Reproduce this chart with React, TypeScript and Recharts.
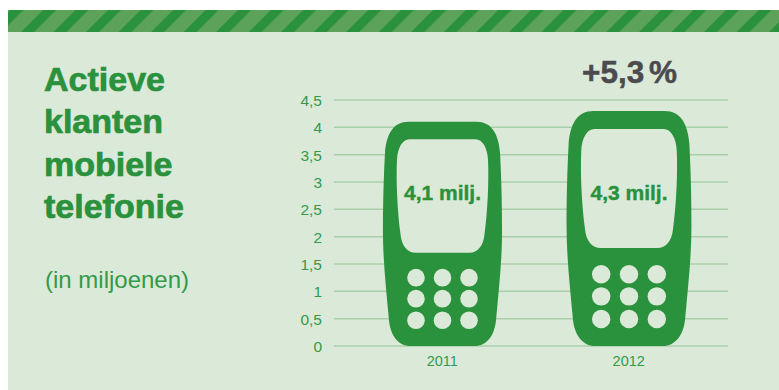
import { Bar, BarChart, CartesianGrid, LabelList, XAxis, YAxis } from "recharts";

const years = ["2011", "2012"];
const customers = [4.1, 4.3];
const yTicks = [0, 0.5, 1, 1.5, 2, 2.5, 3, 3.5, 4, 4.5];
const titleLines = ["Actieve", "klanten", "mobiele", "telefonie"];

const GREEN = "#2a913c";
const TICK_GREEN = "#349a4a";
const PANEL = "#dbe9d9";
const GRID = "#a8d0a8";

const rows = years.map((year, i) => ({ year, customers: customers[i] }));
const comma = (v: number) => String(v).replace(".", ",");

// phone outline, drawn in a 224-high box centred on x = 0
const BODY =
  "M-34,0 L34,0 C49,0 56,12 57.5,31 C59,60 59.5,85 59.5,110 C59.5,140 56,170 53.5,198 C52,214 44,224 32,224 " +
  "L-32,224 C-44,224 -52,214 -53.5,198 C-56,170 -59.5,140 -59.5,110 C-59.5,85 -59,60 -57.5,31 C-56,12 -49,0 -34,0 Z";
const SCREEN =
  "M-33,17.3 L33,17.3 C40,17.3 45,26 45.5,38 C46.5,60 45,90 42,112 C41,124 35,130.7 27,130.7 " +
  "L-27,130.7 C-35,130.7 -41,124 -42,112 C-45,90 -46.5,60 -45.5,38 C-45,26 -40,17.3 -33,17.3 Z";
const KEY_X = [-26.5, 0, 26.5];
const KEY_Y = [155.7, 176.7, 198.3];

function Phone({ x, y, width, height }: any) {
  const scale = height / 224;
  return (
    <g transform={`translate(${x + width / 2},${y}) scale(${scale})`}>
      <path d={BODY} fill={GREEN} />
      <path d={SCREEN} fill={PANEL} />
      {KEY_Y.map((ky) =>
        KEY_X.map((kx) => <circle key={`${kx}-${ky}`} cx={kx} cy={ky} r={8.8} fill={PANEL} />)
      )}
    </g>
  );
}

function ScreenLabel({ x, y, width, height, value }: any) {
  return (
    <text
      x={x + width / 2}
      y={y + height - 146}
      textAnchor="middle"
      fontSize={21}
      fontWeight="bold"
      fill={GREEN}
      stroke={GREEN}
      strokeWidth={0.4}
    >
      {comma(value)} milj.
    </text>
  );
}

export default function App() {
  return (
    <div style={{ position: "fixed", left: 0, top: 0, width: 779, height: 390, background: "#fff", fontFamily: "'Liberation Sans', sans-serif" }}>
      <svg width={779} height={390} style={{ position: "absolute", left: 0, top: 0 }}>
        <defs>
          <pattern id="stripes" width={23} height={23} patternUnits="userSpaceOnUse" patternTransform="translate(53,0) rotate(45)">
            <rect width={23} height={23} fill="#5ca25a" />
            <rect width={9.2} height={23} fill={GREEN} />
          </pattern>
        </defs>
        <rect x={8} y={32} width={771} height={358} fill={PANEL} />
        <rect x={8} y={10} width={771} height={22} fill="url(#stripes)" />
        {titleLines.map((line, i) => (
          <text key={line} x={44} y={91 + i * 42.4} fontSize={34} fontWeight="bold" fill={GREEN} stroke={GREEN} strokeWidth={0.7}>
            {line}
          </text>
        ))}
        <text x={45} y={288} fontSize={24} fill={TICK_GREEN}>
          (in miljoenen)
        </text>
        <text x={582} y={83} fontSize={31.5} fontWeight="bold" wordSpacing={-4} fill="#4b4b4f" stroke="#4b4b4f" strokeWidth={0.5}>
          +5,3 %
        </text>
      </svg>
      <div style={{ position: "absolute", left: 0, top: 0 }}>
        <BarChart
          width={779}
          height={390}
          data={rows}
          barCategoryGap={0}
          margin={{ top: 100, right: 51, bottom: 0, left: 290 }}
        >
          <CartesianGrid vertical={false} stroke={GRID} strokeWidth={1.5} />
          <XAxis
            dataKey="year"
            height={44}
            padding={{ left: 15, right: 6 }}
            axisLine={false}
            tickLine={false}
            tickSize={0}
            tickMargin={10}
            tick={{ fontSize: 14.5, fill: TICK_GREEN }}
          />
          <YAxis
            width={44}
            domain={[0, 4.5]}
            ticks={yTicks}
            interval={0}
            axisLine={false}
            tickLine={false}
            tickSize={0}
            tickMargin={12}
            tickFormatter={comma}
            tick={{ fontSize: 15.5, fill: TICK_GREEN, dy: 0.5 }}
          />
          <Bar dataKey="customers" shape={Phone} isAnimationActive={false}>
            <LabelList dataKey="customers" content={ScreenLabel} />
          </Bar>
        </BarChart>
      </div>
    </div>
  );
}
